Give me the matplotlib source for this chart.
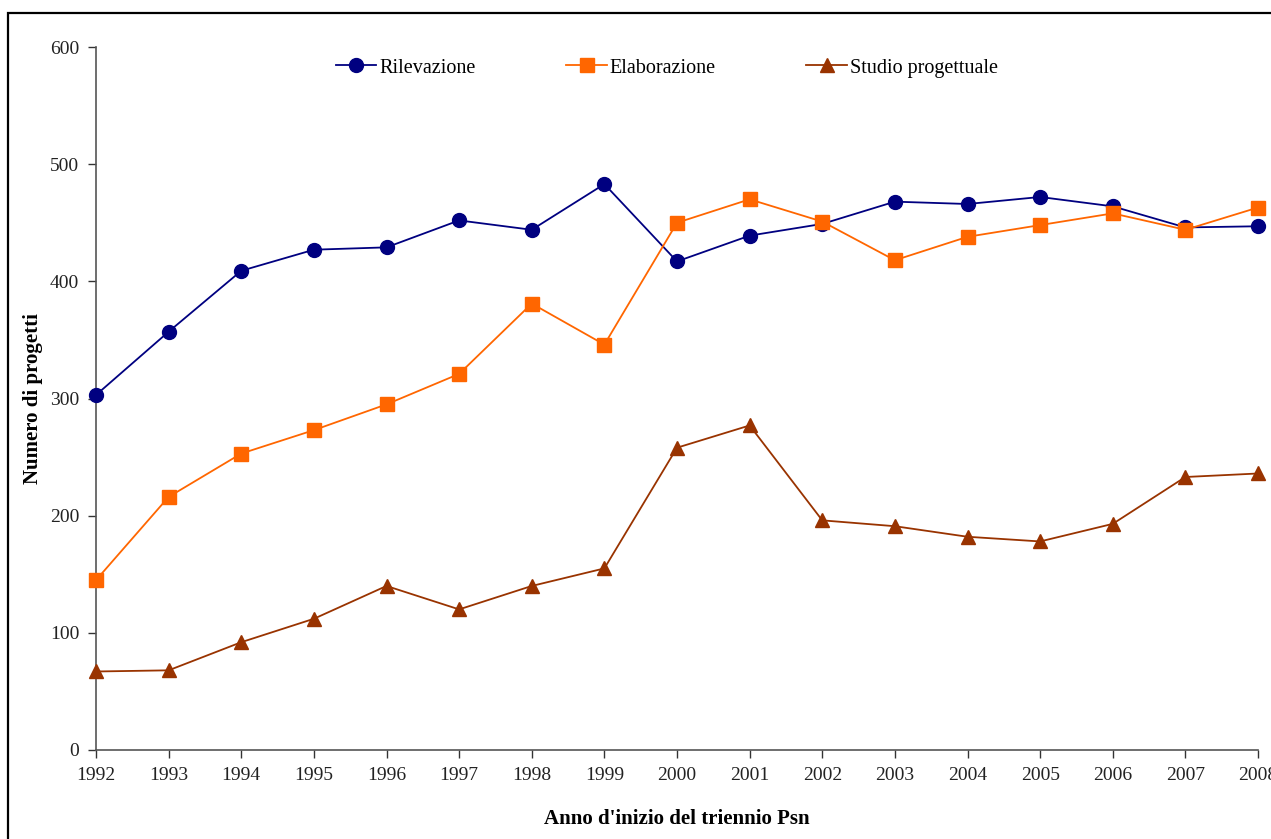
import matplotlib
matplotlib.use("Agg")
import matplotlib.pyplot as plt
from matplotlib.patches import Rectangle

plt.rcParams['font.family'] = ['Liberation Serif', 'DejaVu Serif']

years = list(range(1992, 2009))
rilevazione = [303, 357, 409, 427, 429, 452, 444, 483, 417, 439, 449, 468, 466, 472, 464, 446, 447]
elaborazione = [145, 216, 253, 273, 295, 321, 381, 346, 450, 470, 451, 418, 438, 448, 458, 444, 463]
studio = [67, 68, 92, 112, 140, 120, 140, 155, 258, 277, 196, 191, 182, 178, 193, 233, 236]
series_names = ["Rilevazione", "Elaborazione", "Studio progettuale"]

W, H = 1271, 839
fig = plt.figure(figsize=(W / 100, H / 100), dpi=100)

# outer frame of the chart area (extends past the right and bottom edges)
fig.patches.append(Rectangle((8 / W, -0.1), 1.2, (H - 13) / H + 0.1,
                             transform=fig.transFigure, fill=False,
                             edgecolor='black', linewidth=1.6, zorder=0))

ax = fig.add_axes([96 / W, 89 / H, (1258 - 96) / W, (750 - 47) / H])
ax.set_facecolor('none')

l1, = ax.plot(years, rilevazione, color='#000080', marker='o', markersize=10,
              linewidth=1.3, clip_on=False, zorder=3)
l2, = ax.plot(years, elaborazione, color='#FF6600', marker='s', markersize=10,
              linewidth=1.3, clip_on=False, zorder=3)
l3, = ax.plot(years, studio, color='#993300', marker='^', markersize=10,
              linewidth=1.3, clip_on=False, zorder=3)

ax.set_xlim(1992, 2008)
ax.set_ylim(0, 600)
ax.set_xticks(years)
ax.set_yticks(range(0, 601, 100))
ax.spines['top'].set_visible(False)
ax.spines['right'].set_visible(False)
for s in ('left', 'bottom'):
    ax.spines[s].set_color('#555555')
    ax.spines[s].set_linewidth(1.2)
ax.tick_params(axis='both', direction='out', length=6, width=1.0,
               color='#333333', labelsize=14, labelcolor='#222222')
ax.tick_params(axis='x', pad=6)
ax.tick_params(axis='y', pad=6)

ax.set_ylabel("Numero di progetti", fontsize=15, fontweight='bold')
ax.yaxis.set_label_coords((43 - 96) / (1258 - 96), 0.5)
ax.set_xlabel("Anno d'inizio del triennio Psn", fontsize=15, fontweight='bold')
ax.xaxis.set_label_coords(0.5, -(809 - 750) / (750 - 47))

fig.legend([l1, l2, l3], series_names, loc='center left',
           bbox_to_anchor=(318 / W, 1 - 68 / H),
           ncol=3, frameon=False, fontsize=14.5, handlelength=2.0, columnspacing=4.5,
           handletextpad=0.15)

fig.savefig("out.png", dpi=100)
